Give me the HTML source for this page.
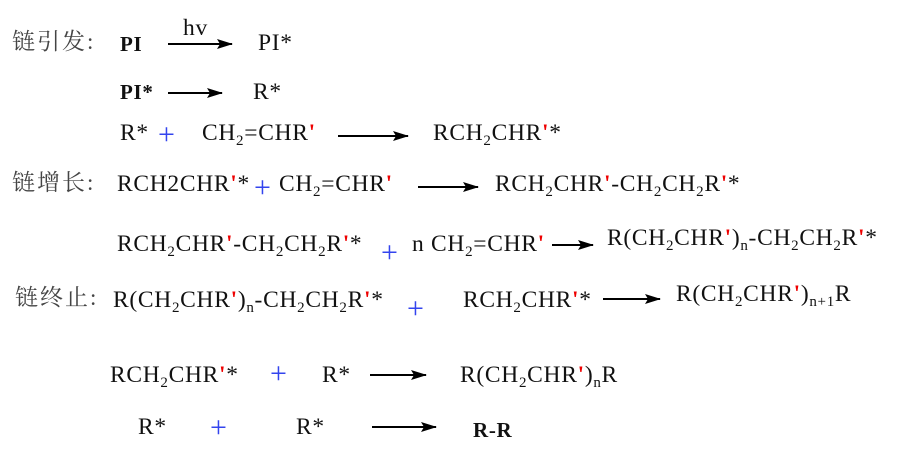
<!DOCTYPE html>
<html><head><meta charset="utf-8"><style>
body{margin:0;width:910px;height:460px;background:#fff;position:relative;overflow:hidden;font-family:"Liberation Serif","Noto Serif CJK SC",serif;color:#111}
.t{position:absolute;font-size:23.5px;line-height:24px;white-space:nowrap;letter-spacing:0.7px}
.b{font-weight:bold;font-size:21px}
.c{color:#444;font-family:"Liberation Serif","Noto Serif CJK SC",serif;font-size:23px;letter-spacing:2px}
.p{color:#e00;font-weight:bold}
.pl{position:absolute;color:#3344ee;font-size:30px;line-height:30px;font-family:"Liberation Serif",serif}
sub{font-size:15px;vertical-align:-5px;line-height:0}
svg{position:absolute;left:0;top:0}
</style></head><body>
<svg width="910" height="460">
<defs><marker id="a" markerWidth="16" markerHeight="10" refX="15" refY="5" orient="auto" markerUnits="userSpaceOnUse"><path d="M0,0 L16,5 L0,10 L3,5 Z" fill="#000"/></marker></defs>
<g stroke="#000" stroke-width="2" marker-end="url(#a)">
<line x1="168" y1="44" x2="232" y2="44"/>
<line x1="168" y1="93" x2="222" y2="93"/>
<line x1="338" y1="136" x2="408" y2="136"/>
<line x1="418" y1="187" x2="478" y2="187"/>
<line x1="552" y1="245" x2="593" y2="245"/>
<line x1="603" y1="299" x2="660" y2="299"/>
<line x1="370" y1="375" x2="426" y2="375"/>
<line x1="372" y1="427" x2="436" y2="427"/>
</g></svg>
<div class="t c" style="left:12px;top:30px">链引发:</div>
<div class="t b" style="left:120px;top:32px">PI</div>
<div class="t" style="left:183px;top:16px">hv</div>
<div class="t" style="left:258px;top:31px">PI*</div>
<div class="t b" style="left:120px;top:80px">PI*</div>
<div class="t" style="left:253px;top:80px">R*</div>
<div class="t" style="left:120px;top:121px">R*</div>
<div class="pl" style="left:158px;top:120px">+</div>
<div class="t" style="left:202px;top:121px">CH<sub>2</sub>=CHR<span class="p">'</span></div>
<div class="t" style="left:433px;top:121px">RCH<sub>2</sub>CHR<span class="p">'</span>*</div>
<div class="t c" style="left:12px;top:171px">链增长:</div>
<div class="t" style="left:117px;top:172px">RCH2CHR<span class="p">'</span>*</div>
<div class="pl" style="left:254px;top:173px">+</div>
<div class="t" style="left:279px;top:172px">CH<sub>2</sub>=CHR<span class="p">'</span></div>
<div class="t" style="left:495px;top:172px">RCH<sub>2</sub>CHR<span class="p">'</span>-CH<sub>2</sub>CH<sub>2</sub>R<span class="p">'</span>*</div>
<div class="t" style="left:117px;top:232px">RCH<sub>2</sub>CHR<span class="p">'</span>-CH<sub>2</sub>CH<sub>2</sub>R<span class="p">'</span>*</div>
<div class="pl" style="left:381px;top:238px">+</div>
<div class="t" style="left:412px;top:232px">n CH<sub>2</sub>=CHR<span class="p">'</span></div>
<div class="t" style="left:607px;top:226px">R(CH<sub>2</sub>CHR<span class="p">'</span>)<sub>n</sub>-CH<sub>2</sub>CH<sub>2</sub>R<span class="p">'</span>*</div>
<div class="t c" style="left:15px;top:286px">链终止:</div>
<div class="t" style="left:113px;top:288px">R(CH<sub>2</sub>CHR<span class="p">'</span>)<sub>n</sub>-CH<sub>2</sub>CH<sub>2</sub>R<span class="p">'</span>*</div>
<div class="pl" style="left:407px;top:294px">+</div>
<div class="t" style="left:463px;top:288px">RCH<sub>2</sub>CHR<span class="p">'</span>*</div>
<div class="t" style="left:676px;top:282px">R(CH<sub>2</sub>CHR<span class="p">'</span>)<sub>n+1</sub>R</div>
<div class="t" style="left:110px;top:363px">RCH<sub>2</sub>CHR<span class="p">'</span>*</div>
<div class="pl" style="left:270px;top:359px">+</div>
<div class="t" style="left:322px;top:363px">R*</div>
<div class="t" style="left:460px;top:363px">R(CH<sub>2</sub>CHR<span class="p">'</span>)<sub>n</sub>R</div>
<div class="t" style="left:138px;top:415px">R*</div>
<div class="pl" style="left:210px;top:413px">+</div>
<div class="t" style="left:296px;top:415px">R*</div>
<div class="t b" style="left:473px;top:418px">R-R</div>
</body></html>
